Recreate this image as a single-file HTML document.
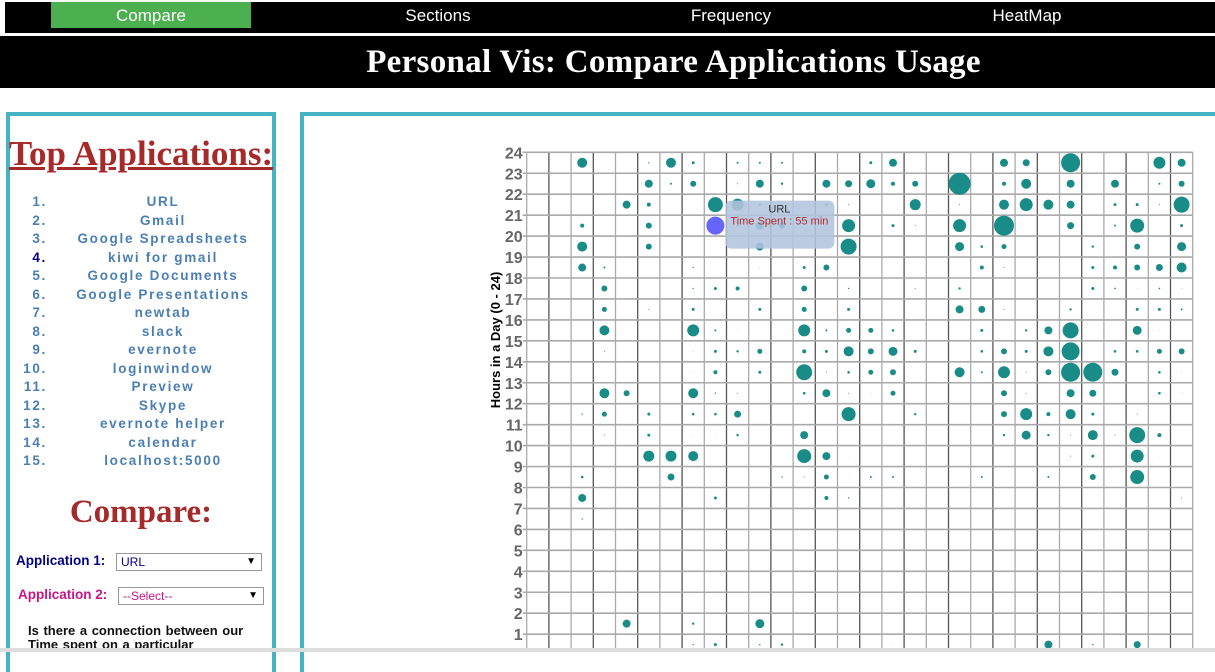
<!DOCTYPE html>
<html><head><meta charset="utf-8">
<style>
*{margin:0;padding:0;box-sizing:border-box}
body{width:1215px;height:652px;overflow:hidden;background:#fff;position:relative;font-family:"Liberation Sans",Arial,sans-serif}
.abs{position:absolute}
#nav{left:5px;top:2px;width:1210px;height:31px;background:#000}
.nav-item{position:absolute;top:0;height:26px;line-height:27px;color:#fff;font-size:17px;text-align:center}
#title{left:0;top:36px;width:1215px;height:52px;background:#000;color:#fff;font-family:"Liberation Serif",Georgia,serif;font-weight:bold;font-size:33px;text-align:center;line-height:52px;padding-left:132px;letter-spacing:0.3px}
#left{left:6px;top:112px;width:270px;height:560px;border:4px solid #44b4c4;border-bottom:none}
#right{left:300px;top:112px;width:930px;height:560px;border:4px solid #44b4c4;border-bottom:none}
.h{font-family:"Liberation Serif",Georgia,serif;font-weight:bold;color:#a52a2a;font-size:33px;text-align:center}
.li{position:absolute;font-size:13.5px;font-weight:bold;color:#4a7fb4;letter-spacing:1.7px}
.num{left:0;width:47px;text-align:right}
.nm{left:28px;width:270px;text-align:center}
.lab{font-size:13.5px;font-weight:bold}
.sel{position:absolute;height:18px;border:1px solid #999;font-size:12px;line-height:16px;padding-left:4px;background:#fff}
.sel span{position:absolute;right:5px;top:0;color:#000;font-size:10px}
#scroll{left:0;top:648px;width:1215px;height:4px;background:#ddd}
</style></head><body>
<div id="nav" class="abs">
  <div class="nav-item" style="left:46px;width:200px;background:#4caf50">Compare</div>
  <div class="nav-item" style="left:333px;width:200px">Sections</div>
  <div class="nav-item" style="left:626px;width:200px">Frequency</div>
  <div class="nav-item" style="left:922px;width:200px">HeatMap</div>
</div>
<div id="title" class="abs">Personal Vis: Compare Applications Usage</div>

<div id="left" class="abs"></div>
<div class="abs h" style="left:0px;top:134px;width:282px;text-decoration:underline;font-size:35px">Top Applications:</div>
<div id="list"></div>
<div class="abs h" style="left:6px;top:494px;width:270px">Compare:</div>
<div class="abs lab" style="left:16px;top:553px;color:#000080">Application 1:</div>
<div class="sel" style="left:116px;top:553px;width:146px;color:#000080">URL<span>▼</span></div>
<div class="abs lab" style="left:18px;top:587px;color:#c71585">Application 2:</div>
<div class="sel" style="left:118px;top:587px;width:146px;color:#c71585">--Select--<span>▼</span></div>
<div class="abs" style="left:28px;top:624px;font-size:13px;font-weight:bold;color:#111;line-height:14px;word-spacing:1px">Is there a connection between our<br>Time spent on a particular</div>

<div id="right" class="abs"></div>
<svg id="chart" class="abs" style="left:0;top:0" width="1215" height="652"></svg>
<div id="scroll" class="abs"></div>

<script>
const apps = ["URL","Gmail","Google Spreadsheets","kiwi for gmail","Google Documents","Google Presentations","newtab","slack","evernote","loginwindow","Preview","Skype","evernote helper","calendar","localhost:5000"];
const list = document.getElementById('list');
apps.forEach((a,i)=>{
  const y = 194 + i*18.5;
  const n = document.createElement('div');
  n.className='li num'; n.style.top=y+'px'; n.textContent=(i+1)+'.';
  if(i===3) n.style.color='#000080';
  
  
  list.appendChild(n);
  const t = document.createElement('div');
  t.className='li nm'; t.style.top=y+'px'; t.textContent=a;
  
  
  list.appendChild(t);
});

// chart data
const hourTicks = [24,23,22,21,20,19,18,17,16,15,14,13,12,11,10,9,8,7,6,5,4,3,2,1];
const rowHours = [23,22,21,20,19,18,17,16,15,14,13,12,11,10,9,8,7,6,1,0];
const rowDays = [
 [2,5,6,7,9,10,11,15,16,21,22,24,28,29],
 [5,6,7,9,10,11,13,14,15,16,17,19,21,22,24,26,28,29],
 [4,5,8,9,10,13,14,17,19,21,22,23,24,26,27,28,29],
 [2,5,8,9,10,11,14,16,17,19,21,24,26,27,29],
 [2,5,10,14,19,20,21,25,27,29],
 [2,3,7,10,12,13,20,21,25,26,27,28,29],
 [3,7,8,9,12,14,17,19,25,26,27,28,29],
 [3,5,7,10,12,14,19,20,21,24,27,28,29],
 [3,7,8,9,12,13,14,15,16,20,22,23,24,27,28,29],
 [3,7,8,9,10,12,13,14,15,16,17,20,21,22,23,24,26,27,28,29],
 [7,8,10,12,13,14,15,16,19,20,21,22,23,24,25,26,28,29],
 [3,4,7,8,9,12,13,14,15,16,21,22,24,25,28,29],
 [2,3,5,7,8,9,14,17,20,21,22,23,24,25,27],
 [3,5,7,8,9,12,21,22,23,24,25,26,27,28],
 [5,6,7,12,13,14,20,24,25,27,28],
 [2,6,11,12,13,14,15,16,20,23,25,27],
 [2,8,13,14,29],
 [2],
 [4,7,10,11],
 [7,8,10,11,16,23,25,27]
];
const rowSizes = [
 [5,.7,5,1.5,1,1,1,1.5,4,4,3.5,9.5,6,4],
 [4,1,3,.5,4,1.2,4,3.5,4.5,2,3,11,2,5,4,4,1,3],
 [4,2,7.5,6,1,1.5,.5,5.5,.5,5,6.5,5,4,1.5,1.5,.5,8],
 [2,3,9,1,4,3,6.5,1.5,.5,6.5,10,3.5,1,7,1.5],
 [5,3,4,8,4.5,1.3,2.5,1.2,3,4.5],
 [4,1,.7,.3,1.5,3,2,.5,1.5,2,3,3.5,5],
 [3,.7,1.5,2,3,.7,.5,1.2,1.5,.8,.3,.8,.3],
 [2.5,.5,1.5,1.5,2.5,1.5,4,3.5,.5,1.2,1.5,1.5,1],
 [5,6,1,.3,6,1,2.5,2.5,1.3,1.5,1.2,4,8,4.5,.3,.3],
 [.5,.3,1.5,1.2,2.5,2,1.5,5,3,4.5,1.5,1.3,3,1.5,5,9,1.3,1.3,2.5,3],
 [.3,2,1.5,8,.5,1.3,2.5,3,5,1,6,.5,3,9.5,9.5,3.5,1.3,.3],
 [5,3,5,.7,.5,1.3,4,.5,.3,2.5,3,.5,4,3.5,1.3,.3],
 [.7,2.5,1.5,1.3,1.3,3.5,7,1.2,.2,3,6,2,5,1.5,.5],
 [.5,1.5,.3,.2,1.2,4,1.2,4.5,1.2,.5,5,.5,8,2],
 [5.5,5.5,5,7,4,.2,.2,.5,1.5,6.5,.2],
 [1.3,3.5,.7,.5,2.5,.2,1,1,1,1,3,7],
 [4,1.5,2,.7,.5],
 [.7],
 [4,1.2,4.5,.2],
 [.7,1.5,.7,1.2,.3,4,.7,3.5]
];
const tipApp = "URL";
const tipMinutes = 55;
const tipDay = 8, tipHour = 20;

const NS='http://www.w3.org/2000/svg';
const svg=document.getElementById('chart');
const x0=526.7, cw=22.2, nDays=30, yTop=152.3, rh=20.95;
function xScale(d){return x0+cw*(d+0.5);}
function yScale(h){return yTop+(24-h)*rh;}
function mk(tag,attrs){const e=document.createElementNS(NS,tag);for(const k in attrs)e.setAttribute(k,attrs[k]);svg.appendChild(e);return e;}

for(let d=0; d<=nDays; d++){
  const l=mk('line',{x1:x0+cw*d,x2:x0+cw*d,y1:yTop,y2:660,stroke:(d%2?'#555':'#aaa'),'stroke-width':1.3});
  
  
}
for(let h=24; h>=0; h--){
  const l=mk('line',{x1:x0-4,x2:x0+cw*nDays,y1:yScale(h),y2:yScale(h),stroke:'#aaa','stroke-width':1.6});
  
  
}
hourTicks.forEach(h=>{
  const t=mk('text',{x:x0-4,y:yScale(h)+6,'text-anchor':'end','font-size':16,'font-weight':'bold',fill:'#666','font-family':'Liberation Sans, Arial, sans-serif'});
  t.textContent=h;
  
  
});
const yt=mk('text',{x:0,y:0,transform:'translate(500,340) rotate(-90)','text-anchor':'middle','font-size':13,'font-weight':'bold',fill:'#000','font-family':'Liberation Sans, Arial, sans-serif'});
yt.textContent='Hours in a Day (0 - 24)';



rowHours.forEach((h,i)=>{
  rowDays[i].forEach((d,j)=>{
    const hl=(d===tipDay&&h===tipHour);
    const c=mk('circle',{cx:xScale(d),cy:yScale(h+0.5),r:rowSizes[i][j],fill:hl?'#6666ff':'#1a8c88'});
    
    
  });
});

const tx=xScale(tipDay)+10, ty=yScale(tipHour+0.5)-25;
const tr=mk('rect',{x:tx,y:ty,width:109,height:48,rx:6,fill:'rgba(176,196,222,0.88)'});


const t1=mk('text',{x:tx+54,y:ty+12,'text-anchor':'middle','font-size':11,fill:'#333','font-family':'Liberation Sans, Arial, sans-serif'});
t1.textContent=tipApp;


const t2=mk('text',{x:tx+54,y:ty+24,'text-anchor':'middle','font-size':11,fill:'#b03030','font-family':'Liberation Sans, Arial, sans-serif'});
t2.textContent='Time Spent : '+tipMinutes+' min';


</script>
</body></html>
